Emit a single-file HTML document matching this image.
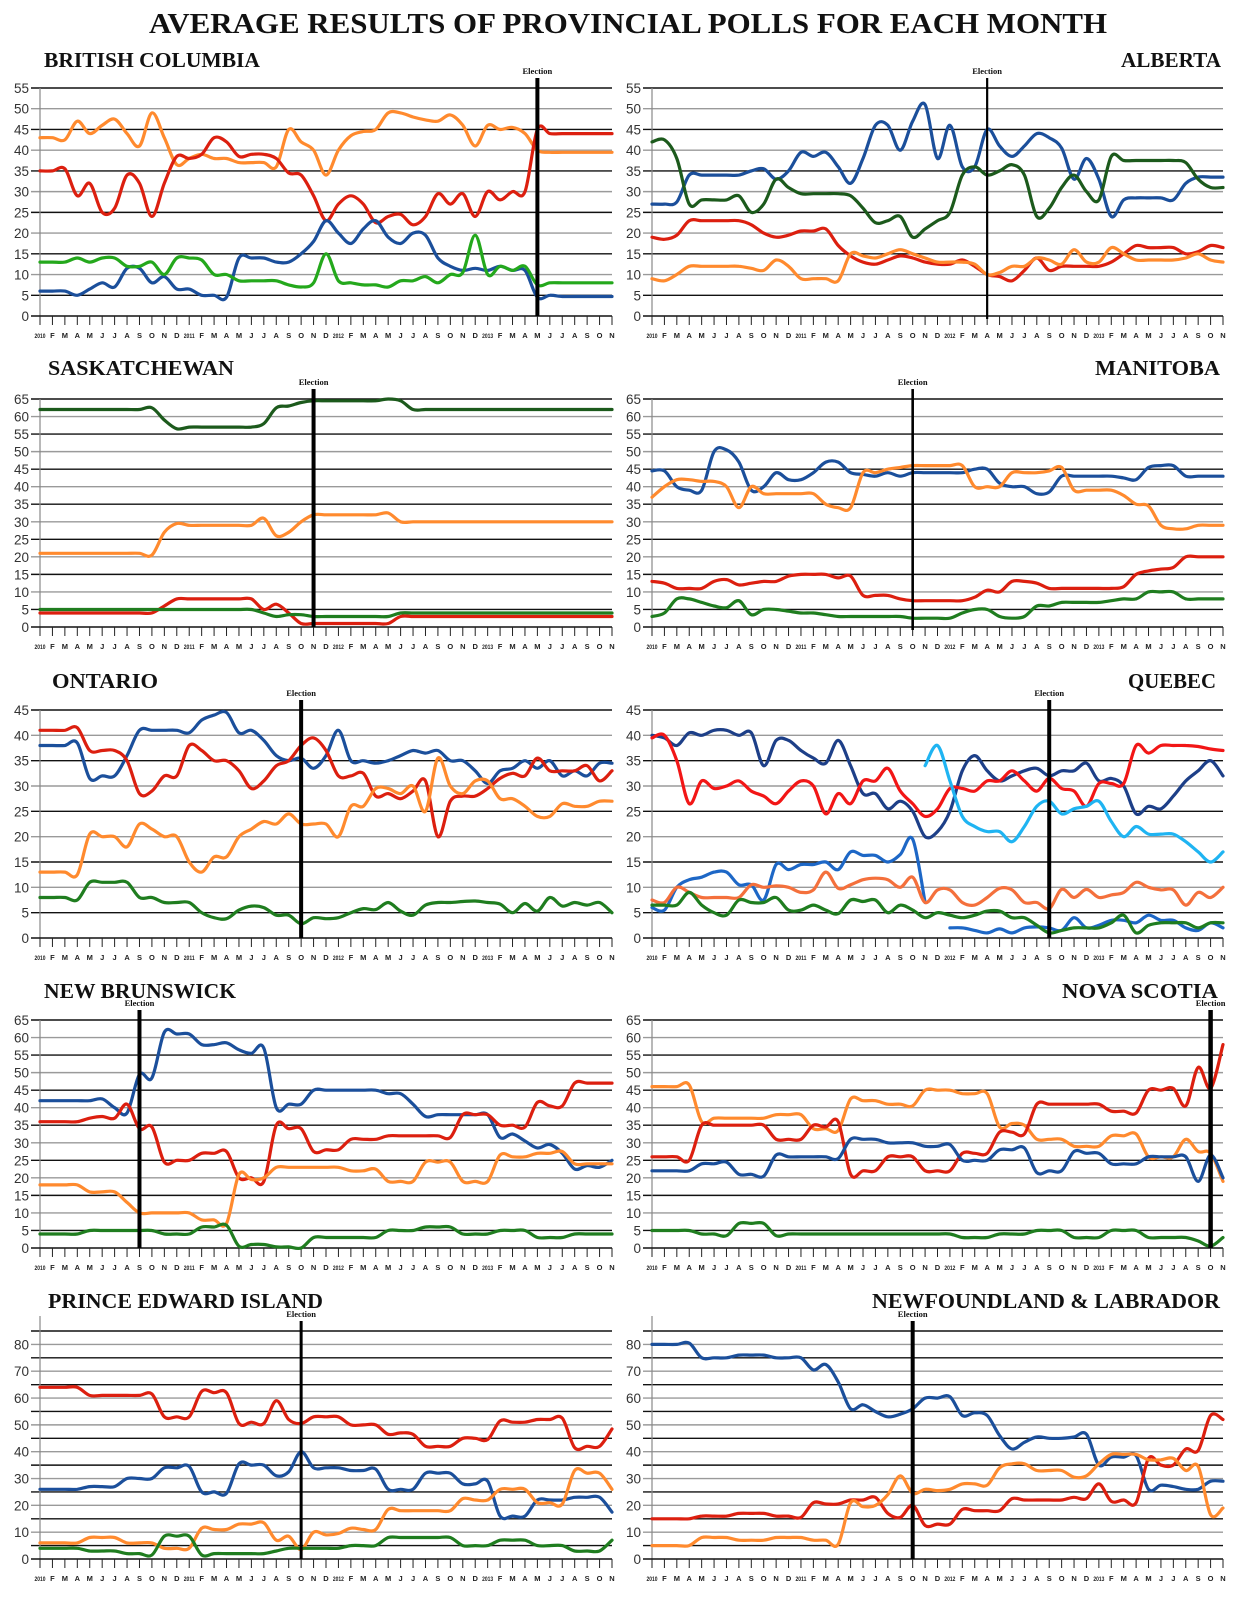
<!DOCTYPE html>
<html><head><meta charset="utf-8">
<style>
html,body{margin:0;padding:0;background:#fff;}
svg{display:block;}
</style></head>
<body>
<svg id="chart" width="1238" height="1600" viewBox="0 0 1238 1600" xmlns="http://www.w3.org/2000/svg">
<text x="628" y="33" text-anchor="middle" font-family="Liberation Serif, serif" font-weight="bold" font-size="28" textLength="958" lengthAdjust="spacingAndGlyphs" fill="#111">AVERAGE RESULTS OF PROVINCIAL POLLS FOR EACH MONTH</text>
</svg>
<script>
// ---------- DATA (index 0 = Jan 2010 ... 46 = Nov 2013) ----------
const monthLabels = ["2010","F","M","A","M","J","J","A","S","O","N","D","2011","F","M","A","M","J","J","A","S","O","N","D","2012","F","M","A","M","J","J","A","S","O","N","D","2013","F","M","A","M","J","J","A","S","O","N"];
const N = null;
const bcOrange = [43,43,42.5,47,44,46,47.5,44,41,49, 43,36.5,38,39,38,38,37,37,37,36, 45,42,40,34,40,43.5,44.5,45,49,49, 48,47.3,47,48.5,46,41,46,45,45.5,44, 40,39.5,39.5,39.5,39.5,39.5,39.5];
const bcRed = [35,35,35.5,29,32,25,26,34,32,24, 32,38.5,38,39,43,42,38.5,39,39,38, 34.5,34,29,23,27,29,27,22.5,24,24.5, 22,24,29.5,27,29.5,24,30,28,30,30, 45,44,44,44,44,44,44];
const bcBlue = [6,6,6,5,6.5,8,7,11.5,11.5,8, 9.5,6.5,6.5,5,5,4.5,14,14,14,13, 13,15,18,23,20,17.5,21,23,19,17.5, 20,19.5,14,12,11,11.5,11,12,11,11, 4.5,5,4.7,4.7,4.7,4.7,4.7];
const bcGreen = [13,13,13,14,13,14,14,12,12,13, 10,14,14,13.5,10,10,8.5,8.5,8.5,8.5, 7.5,7,8,15,8.5,8,7.5,7.5,7,8.5, 8.5,9.5,8,10,10.5,19.5,10,12,11,12, 7.5,8,8,8,8,8,8];

const abBlue = [27,27,27.5,34,34,34,34,34,35,35.5, 33,35,39.5,38.5,39.5,36,32,38,46,46, 40,47,51,38,46,36,36,45,41,38.5, 41,44,43,40.5,33,38,33,24,28,28.5, 28.5,28.5,28,32,33.5,33.5,33.5];
const abWild = [42,42.5,38,27,28,28,28,29,25,27, 33,31,29.5,29.5,29.5,29.5,29,26,22.5,23, 24,19,21,23,25,34,36,34,35,36.5, 34,24,26,31,34,30,28,38.5,37.5,37.5, 37.5,37.5,37.5,37,33,31,31];
const abRed = [19,18.5,19.5,23,23,23,23,23,22,20, 19,19.5,20.5,20.5,21,17,14.5,13,12.5,13.5, 14.5,14,13,12.5,12.5,13.5,12,10,9.5,8.5, 11,14,11,12,12,12,12,13,15,17, 16.5,16.5,16.5,15,15.5,17,16.5];
const abOrange = [9,8.5,10,12,12,12,12,12,11.5,11, 13.5,12,9,9,9,8.5,15,14.5,14,15, 16,15,14,13,13,13,12.5,10,10.5,12, 12,14,13.5,12.5,16,13,13,16.5,15,13.5, 13.5,13.5,13.5,14,15,13.5,13];

const skSaskParty = [62,62,62,62,62,62,62,62,62,62.5, 59,56.5,57,57,57,57,57,57,58,62.5, 63,64,64.5,64.5,64.5,64.5,64.5,64.5,65,64.5, 62,62,62,62,62,62,62,62,62,62, 62,62,62,62,62,62,62];
const skOrange = [21,21,21,21,21,21,21,21,21,20.5, 27,29.5,29,29,29,29,29,29,31,26, 27,30,32,32,32,32,32,32,32.5,30, 30,30,30,30,30,30,30,30,30,30, 30,30,30,30,30,30,30];
const skRed = [4,4,4,4,4,4,4,4,4,4, 6,8,8,8,8,8,8,8,5,6.5, 4,1,1,1,1,1,1,1,1,3, 3,3,3,3,3,3,3,3,3,3, 3,3,3,3,3,3,3];
const skGreen = [5,5,5,5,5,5,5,5,5,5, 5,5,5,5,5,5,5,5,4,3, 3.5,3.5,3,3,3,3,3,3,3,4, 4,4,4,4,4,4,4,4,4,4, 4,4,4,4,4,4,4];

const mbBlue = [44.5,44.5,40,39,39,50,50.5,47,39,40, 44,42,42,44,47,47,44,43.5,43,44, 43,44,44,44,44,44,45,45,41,40, 40,38,38.5,43,43,43,43,43,42.5,42, 45.5,46,46,43,43,43,43];
const mbOrange = [37,40,42,42,41.5,41.5,40,34,40,38, 38,38,38,38,35,34,34,44,44,45, 45.5,46,46,46,46,46,40,40,40,44, 44,44,44.5,45.5,39,39,39,39,37.5,35, 34.5,29,28,28,29,29,29];
const mbRed = [13,12.5,11,11,11,13,13.5,12,12.5,13, 13,14.5,15,15,15,14,14.5,9,9,9, 8,7.5,7.5,7.5,7.5,7.5,8.5,10.5,10,13, 13,12.5,11,11,11,11,11,11,11.5,15, 16,16.5,17,20,20,20,20];
const mbGreen = [3,4,8,8,7,6,5.5,7.5,3.5,5, 5,4.5,4,4,3.5,3,3,3,3,3, 3,2.5,2.5,2.5,2.5,4,5,5,3,2.5, 3,6,6,7,7,7,7,7.5,8,8, 10,10,10,8,8,8,8];

const onBlue = [38,38,38,38.5,31.5,32,32,36,41,41, 41,41,40.5,43,44,44.5,40.5,41,39,36, 35,35.5,33.5,36,41,35,35,34.5,35,36, 37,36.5,37,35,35,33,30.5,33,33.5,35, 33.5,35,32,33,32,34.5,34.5];
const onRed = [41,41,41,41.5,37,37,37,35,28.5,29, 32,32,38,37,35,35,33,29.5,31,34, 35,38,39.5,37,32,32,32.5,28,28.5,27.5, 29,31,20,27,28,28,29.5,31.5,32.5,32, 35.5,33,33,33,34,31,33];
const onOrange = [13,13,13,12.5,20.5,20,20,18,22.5,21.5, 20,20,15,13,16,16,20,21.5,23,22.5, 24.5,22.5,22.5,22.5,20,26,26,29.5,29.5,28.5, 30,25,35.5,30,28.5,31,31,27.5,27.5,26, 24,24,26.5,26,26,27,27];
const onGreen = [8,8,8,7.5,11,11,11,11,8,8, 7,7,7,5,4,3.8,5.5,6.3,6,4.5, 4.5,2.8,4,3.8,4,5,5.8,5.6,7,5.3, 4.5,6.5,7,7,7.2,7.3,7,6.7,5,6.8, 5.3,8,6.3,7,6.5,7,5];

const qcLiberal = [40,39.5,38,40.5,40,41,41,40,40.5,34, 39,39,37,35.5,34.5,39,34,28.5,28.5,25.5, 27,25,20,21,25,33,36,33,31,32, 33,33.5,32,33,33,34.5,31,31.5,30,24.5, 26,25.5,28,31,33,35,32];
const qcPQ = [39.5,40,35,26.5,31,29.5,30,31,29,28, 26.5,29,31,30,24.5,28.5,26.5,31,31,33.5, 29,26.5,24,25.5,29.5,29.5,29,31,31,33, 31,29,31.5,29.5,29,26,30.5,30.5,30.5,38, 36.5,38,38,38,37.8,37.3,37];
const qcCAQ = [N,N,N,N,N,N,N,N,N,N, N,N,N,N,N,N,N,N,N,N, N,N,34,38,31,24,22,21,21,19, 22,26,27,24.5,25.5,26,27,23,20,22, 20.5,20.5,20.5,19,17,15,17];
const qcADQ = [6,5.5,10,11.5,12,13,13,10.5,10.5,7.5, 14.5,13.5,14.5,14.5,15,13.5,17,16.3,16.3,15, 16.5,19.5,7,N,N,N,N,N,N,N, N,N,N,N,N,N,N,N,N,N, N,N,N,N,N,N,N];
const qcON = [N,N,N,N,N,N,N,N,N,N, N,N,N,N,N,N,N,N,N,N, N,N,N,N,2,2,1.5,1,1.8,1, 2,2.2,2,1.5,4,2,2.5,3.5,3.5,3, 4.5,3.5,3.5,2,1.5,3,2];
const qcNDP = [7.5,7,10,9,8,8,8,8,10.5,10, 10.3,10,9,9.5,13,9.8,10.5,11.5,11.8,11.5, 10,12,7,9.5,9.5,7,6.5,8,9.8,9.5, 7,7,5.8,9.6,8,9.6,8,8.5,9,11, 10,9.5,9.5,6.5,9,8,10];
const qcGreen = [6.5,6.5,6.5,9,6.5,5,4.5,7.5,7,7, 8,5.5,5.5,6.5,5.5,4.8,7.5,7.2,7.5,5, 6.5,5.5,4,5,4.5,4,4.5,5.3,5.3,4, 4,2.5,1,1.5,2,2,2,3,4.5,1, 2.5,3,3,3,2,3,3];

const nbBlue = [42,42,42,42,42,42.5,40,38.5,49.5,48.5, 61.5,61,61,58,58,58.5,56.5,55.5,57,40, 41,41,45,45,45,45,45,45,44,44, 41,37.5,38,38,38,38,38,31.5,32.5,30.5, 28.5,29.5,27,22.5,23.5,23,25];
const nbRed = [36,36,36,36,37,37.5,37,41,34,34.5, 24.5,25,25,27,27,27.5,20,20,19,35, 34,34,27.5,28,28,31,31,31,32,32, 32,32,32,31.5,38,38,38,35,35,34.5, 41.5,40.5,40.5,47,47,47,47];
const nbOrange = [18,18,18,18,16,16,16,13,10,10, 10,10,10,8,8,7,21,19.5,20,23, 23,23,23,23,23,22,22,22.5,19,19, 19,24.5,24.5,24.5,19,19,19,26.5,26,26, 27,27,27.5,24,24,24,24];
const nbGreen = [4,4,4,4,5,5,5,5,5,5, 4,4,4,6,6,6.5,0.5,1,1,0.3, 0.3,0,3,3,3,3,3,3,5,5, 5,6,6,6,4,4,4,5,5,5, 3,3,3,4,4,4,4];

const nsOrange = [46,46,46,46.5,36,37,37,37,37,37, 38,38,38,34,34,33.5,42.5,42,42,41, 41,40.5,45,45,45,44,44,44,34.5,35.5, 35,31,31,31,29,29,29,32,32,32.5, 26,26,26,31,27.5,27,19];
const nsRed = [26,26,26,25,35,35,35,35,35,35, 31,31,31,35,34.5,36,21,22,22,26, 26,26,22,22,22,27,27,27,33,33, 32.5,41,41,41,41,41,41,39,39,38.5, 45,45,45.5,40.5,51.5,45.5,58];
const nsBlue = [22,22,22,22,24,24,24.5,21,21,20.5, 26.5,26,26,26,26,25.5,31,31,31,30, 30,30,29,29,29.5,25,25,25,28,28, 28.5,21.5,22,22,27.5,27,27,24,24,24, 26,26,26,26,19,26.5,20];
const nsGreen = [5,5,5,5,4,4,3.5,7,7,7, 3.5,4,4,4,4,4,4,4,4,4, 4,4,4,4,4,3,3,3,4,4, 4,5,5,5,3,3,3,5,5,5, 3,3,3,3,2,0.5,3];

const peRed = [64,64,64,64,61,61,61,61,61,61.5, 53,53,53,62.5,62,62,50.5,51,50.5,59, 52,50.5,53,53,53,50,50,50,46.5,47, 46.5,42,42,42,45,45,44.5,51.5,51,51, 52,52,52.5,41.5,42,42,48.5];
const peBlue = [26,26,26,26,27,27,27,30,30,30, 34,34,34.5,25,25,24.5,35.5,35,35,31, 32.5,40,34,34,34,33,33,33.5,26,26, 26,32,32,32,28,28,29,16,16,16, 22,22,22,23,23,23,17.5];
const peOrange = [6,6,6,6,8,8,8,6,6,6, 4,4,4,11.5,11,11,13,13,13.5,7, 8.5,3.5,10,9,9.5,11.5,11,11,18.5,18, 18,18,18,18,22.5,22,22,26,26,26, 21,21,20.5,33,32,32,26];
const peGreen = [4,4,4,4,3,3,3,2,2,1.5, 8.5,8.5,8.5,1.5,2,2,2,2,2,3, 4,4,4,4,4,5,5,5,8,8, 8,8,8,8,5,5,5,7,7,7, 5,5,5,3,3,3,7];

const nlBlue = [80,80,80,80.5,75,75,75,76,76,76, 75,75,75,70.5,72.5,66,56,57.5,55,53, 54,56,60,60,60.5,53.5,54.5,53.5,46,41, 43.5,45.5,45,45,45.5,46.5,35,38,38,38.5, 26,27.5,27,26,26,29,29];
const nlRed = [15,15,15,15,16,16,16,17,17,17, 16,16,15.5,21,20.5,20.5,22,22,23,17, 15.5,20,12.5,13,13,18.5,18,18,18,22.5, 22,22,22,22,23,22.5,28,21.5,22,21, 37.5,35,35,41,40.5,53.5,52];
const nlOrange = [5,5,5,5,8,8,8,7,7,7, 8,8,8,7,7,5.5,21,19.5,20,24, 31,24.5,26,25.5,26,28,28,27.5,34,35.5, 35.5,33,33,33,30.5,31,35.5,39,39,39, 37,37,37.5,33,34.5,16.5,19];

// election month indices
const electionIdx = {bc:40, ab:27, sk:22, mb:21, on:21, qc:32, nb:8, ns:45, pe:21, nl:21};

// ---------- RENDER ----------
const svg = document.getElementById('chart');
const NS = 'http://www.w3.org/2000/svg';
const C = {red:'#dc1f0f', orange:'#ff8a2e', blue:'#1b4f9b', bgreen:'#24a81c', dgreen:'#1c5a1c', green:'#1f7d1f', lblue:'#1fb4f2', mblue:'#1d67c6', qred:'#f21616', qorange:'#f4703c', navy:'#1d3f88'};

function mk(tag, attrs, parent){
  const e = document.createElementNS(NS, tag);
  for (const k in attrs) e.setAttribute(k, attrs[k]);
  (parent||svg).appendChild(e);
  return e;
}

const LX0=40, LX1=612, RX0=652, RX1=1223;
const rows = [{top:88,bottom:316,max:55,step:5},{top:399,bottom:627,max:65,step:5},{top:710,bottom:938,max:45,step:5},{top:1020,bottom:1248,max:65,step:5},{top:1331,bottom:1559,max:85,step:10}];

function panel(p){
  const g = mk('g', {});
  
  
  const r = rows[p.row];
  const x0 = p.side==='L'?LX0:RX0, x1 = p.side==='L'?LX1:RX1;
  const xs = i => x0 + i*(x1-x0)/46;
  const ys = v => r.bottom - v/r.max*(r.bottom-r.top);
  const t = mk('text', {x: p.tx, y: p.ty, 'text-anchor': p.side==='L'?'start':'end', 'font-family':'Liberation Serif, serif','font-weight':'bold','font-size':'21', fill:'#111', textLength:p.tw, lengthAdjust:'spacingAndGlyphs'}, g);
  t.textContent = p.title;
  
  
  let k=0;
  for (let v=0; v<=r.max+0.01; v+=5){
    if (v>0){
      const ln = mk('line', {x1:x0-9, x2:x1, y1:ys(v), y2:ys(v), stroke: (k%2? '#111':'#9a9a9a'), 'stroke-width':1.4}, g);
      
      
    }
    k++;
  }
  for (let v=0; v<=r.max-(r.step===10?5:0)+0.01; v+=r.step){
    const tl = mk('text', {x:x0-11, y:ys(v)+5, 'text-anchor':'end', 'font-family':'Liberation Sans, sans-serif','font-size':'13.5', fill:'#333'}, g);
    tl.textContent = v;
    
    
  }
  const ya = mk('line', {x1:x0, x2:x0, y1:r.top-(r.step===10?15:0), y2:r.bottom, stroke:'#888', 'stroke-width':1.2}, g);
  
  
  const xa = mk('line', {x1:x0-9, x2:x1, y1:r.bottom, y2:r.bottom, stroke:'#111', 'stroke-width':1.6}, g);
  
  
  monthLabels.forEach((m,i)=>{
    const tk = mk('line', {x1:xs(i), x2:xs(i), y1:r.bottom, y2:r.bottom+9, stroke:'#222', 'stroke-width':1}, g);
    
    
    const ml = mk('text', {x:xs(i), y:r.bottom+22, 'text-anchor':'middle', 'font-family':'Liberation Sans, sans-serif','font-size': m.length>1?'6.5':'7.5','font-weight':'bold', fill:'#222'}, g);
    if (m.length>1){ ml.setAttribute('textLength','11'); ml.setAttribute('lengthAdjust','spacingAndGlyphs'); }
    ml.textContent = m;
    
    
  });
  p.series.forEach(s=>{
    let seg=[];
    const segs=[];
    s.data.forEach((v,i)=>{ if(v===null){ if(seg.length) segs.push(seg); seg=[]; } else seg.push([xs(i), ys(v)]); });
    if (seg.length) segs.push(seg);
    segs.forEach(pts=>{
      let d='M'+pts[0][0].toFixed(1)+','+pts[0][1].toFixed(1);
      for (let i=0;i<pts.length-1;i++){
        const p0=pts[Math.max(0,i-1)], p1=pts[i], p2=pts[i+1], p3=pts[Math.min(pts.length-1,i+2)];
        const c1x=p1[0]+(p2[0]-p0[0])/6, c1y=p1[1]+(p2[1]-p0[1])/6;
        const c2x=p2[0]-(p3[0]-p1[0])/6, c2y=p2[1]-(p3[1]-p1[1])/6;
        d+=' C'+c1x.toFixed(1)+','+c1y.toFixed(1)+' '+c2x.toFixed(1)+','+c2y.toFixed(1)+' '+p2[0].toFixed(1)+','+p2[1].toFixed(1);
      }
      const path = mk('path', {d:d, fill:'none', stroke:s.color, 'stroke-width':3.2, 'stroke-linejoin':'round','stroke-linecap':'round'}, g);
      
      
    });
  });
  const ex = xs(electionIdx[p.key]);
  const el = mk('line', {x1:ex, x2:ex, y1:r.top-10, y2:r.bottom+(p.ew<3?3:0), stroke:'#000', 'stroke-width':p.ew}, g);
  
  
  const et = mk('text', {x:ex, y:r.top-14, 'text-anchor':'middle', 'font-family':'Liberation Serif, serif','font-weight':'bold','font-size':'8.5', fill:'#111'}, g);
  et.textContent = 'Election';
  
  
}

panel({key:'bc', row:0, side:'L', title:'BRITISH COLUMBIA', tx:44, ty:67, tw:216, ew:4, series:[
  {name:'ndp', data:bcOrange, color:C.orange},{name:'liberal', data:bcRed, color:C.red},{name:'conservative', data:bcBlue, color:C.blue},{name:'green', data:bcGreen, color:C.bgreen}]});
panel({key:'ab', row:0, side:'R', title:'ALBERTA', tx:1221, ty:67, tw:100, ew:2.2, series:[
  {name:'pc', data:abBlue, color:C.blue},{name:'wildrose', data:abWild, color:C.dgreen},{name:'liberal', data:abRed, color:C.red},{name:'ndp', data:abOrange, color:C.orange}]});
panel({key:'sk', row:1, side:'L', title:'SASKATCHEWAN', tx:48, ty:375, tw:186, ew:4, series:[
  {name:'sask-party', data:skSaskParty, color:C.dgreen},{name:'ndp', data:skOrange, color:C.orange},{name:'liberal', data:skRed, color:C.red},{name:'green', data:skGreen, color:C.green}]});
panel({key:'mb', row:1, side:'R', title:'MANITOBA', tx:1220, ty:375, tw:125, ew:2.6, series:[
  {name:'pc', data:mbBlue, color:C.blue},{name:'ndp', data:mbOrange, color:C.orange},{name:'liberal', data:mbRed, color:C.red},{name:'green', data:mbGreen, color:C.green}]});
panel({key:'on', row:2, side:'L', title:'ONTARIO', tx:52, ty:688, tw:106, ew:4, series:[
  {name:'pc', data:onBlue, color:C.blue},{name:'liberal', data:onRed, color:C.red},{name:'ndp', data:onOrange, color:C.orange},{name:'green', data:onGreen, color:C.green}]});
panel({key:'qc', row:2, side:'R', title:'QUEBEC', tx:1216, ty:688, tw:88, ew:4, series:[
  {name:'liberal', data:qcLiberal, color:C.navy},{name:'pq', data:qcPQ, color:C.qred},{name:'caq', data:qcCAQ, color:C.lblue},{name:'adq', data:qcADQ, color:C.mblue},{name:'on', data:qcON, color:C.mblue},{name:'ndp', data:qcNDP, color:C.qorange},{name:'green', data:qcGreen, color:C.green}]});
panel({key:'nb', row:3, side:'L', title:'NEW BRUNSWICK', tx:44, ty:998, tw:192, ew:4, series:[
  {name:'pc', data:nbBlue, color:C.blue},{name:'liberal', data:nbRed, color:C.red},{name:'ndp', data:nbOrange, color:C.orange},{name:'green', data:nbGreen, color:C.green}]});
panel({key:'ns', row:3, side:'R', title:'NOVA SCOTIA', tx:1218, ty:998, tw:156, ew:4.5, series:[
  {name:'ndp', data:nsOrange, color:C.orange},{name:'liberal', data:nsRed, color:C.red},{name:'pc', data:nsBlue, color:C.blue},{name:'green', data:nsGreen, color:C.green}]});
panel({key:'pe', row:4, side:'L', title:'PRINCE EDWARD ISLAND', tx:48, ty:1308, tw:275, ew:3, series:[
  {name:'liberal', data:peRed, color:C.red},{name:'pc', data:peBlue, color:C.blue},{name:'ndp', data:peOrange, color:C.orange},{name:'green', data:peGreen, color:C.green}]});
panel({key:'nl', row:4, side:'R', title:'NEWFOUNDLAND & LABRADOR', tx:1220, ty:1308, tw:348, ew:4, series:[
  {name:'pc', data:nlBlue, color:C.blue},{name:'liberal', data:nlRed, color:C.red},{name:'ndp', data:nlOrange, color:C.orange}]});
</script>
</body></html>
